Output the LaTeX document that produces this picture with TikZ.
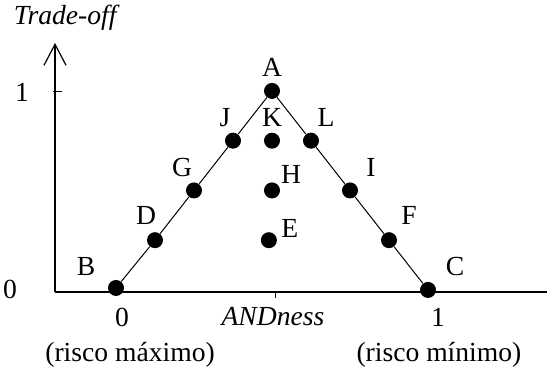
\documentclass[tikz,border=0pt]{standalone}
\usepackage{fontspec}
\setmainfont{Liberation Serif}
\usetikzlibrary{arrows.meta}

\begin{document}
\begin{tikzpicture}[x=156pt, y=99.5pt,
	every node/.style={font=\fontsize{13.8}{16}\selectfont},
	dot/.style={circle, fill, inner sep=0pt, minimum size=8pt},
	axis/.style={line width=0.6pt}]

	\useasboundingbox (-0.3718,-0.437) rectangle (1.3814,1.457);

	% axes
	\coordinate (O) at (-0.1955,-0.01);
	\coordinate (Ytop) at (-0.1955,1.241);
	\coordinate (Xend) at (1.3814,-0.01);
	\draw[axis, -{Straight Barb[length=10.5pt, width=11pt]}] (O) -- (Ytop);
	\draw[axis] (O) -- (Xend);

	% ticks
	\draw ([xshift=-1pt]O |- 0,1) -- ++(4.5pt,0);
	\draw (0.51,-0.01) -- ++(0,-3pt);

	% points (ANDness, trade-off)
	\node[dot, label={[xshift=0pt,   yshift=12pt]center:A}]   (A) at (0.5,1) {};
	\node[dot, label={[xshift=-15pt, yshift=10.5pt]center:B}] (B) at (0,0.01) {};
	\node[dot, label={[xshift=13.5pt,yshift=11.5pt]center:C}] (C) at (1,0) {};
	\node[dot, label={[xshift=-4.5pt,yshift=12.5pt]center:D}] (D) at (0.125,0.25) {};
	\node[dot, label={[xshift=10.5pt,yshift=6pt]center:E}]    (E) at (0.49,0.25) {};
	\node[dot, label={[xshift=10pt,  yshift=12.5pt]center:F}] (F) at (0.875,0.25) {};
	\node[dot, label={[xshift=-6pt,  yshift=11.5pt]center:G}] (G) at (0.25,0.5) {};
	\node[dot, label={[xshift=9.5pt, yshift=8pt]center:H}]    (H) at (0.5,0.5) {};
	\node[dot, label={[xshift=10.5pt,yshift=11.5pt]center:I}] (I) at (0.75,0.5) {};
	\node[dot, label={[xshift=-4pt,  yshift=11.5pt]center:J}] (J) at (0.375,0.75) {};
	\node[dot, label={[xshift=0pt,   yshift=11.5pt]center:K}] (K) at (0.5,0.75) {};
	\node[dot, label={[xshift=7.5pt, yshift=11.5pt]center:L}] (L) at (0.625,0.75) {};

	% triangle sides
	\draw[line width=0.5pt] (B) -- (D) -- (G) -- (J) -- (A) -- (L) -- (I) -- (F) -- (C);

	% axis labels
	\node (ylabel) at (-0.163,1.367) {\itshape Trade-off};
	\node (yone)   at (-0.301,0.995) {1};
	\node (yzero)  at (-0.340,0) {0};
	\node (xzero)  at (0.019,-0.136) {0};
	\node (xname)  at (0.503,-0.136) {\itshape ANDness};
	\node (xone)   at (1.032,-0.136) {1};

	% risk labels
	\node (riskmax) at (0.045,-0.327) {(risco máximo)};
	\node (riskmin) at (1.035,-0.327) {(risco mínimo)};

\end{tikzpicture}
\end{document}
